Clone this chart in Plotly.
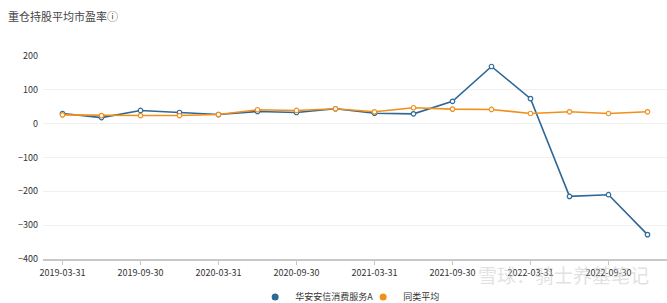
import plotly.graph_objects as go

dates = ["2019-03-31", "2019-06-30", "2019-09-30", "2019-12-31",
         "2020-03-31", "2020-06-30", "2020-09-30", "2020-12-31",
         "2021-03-31", "2021-06-30", "2021-09-30", "2021-12-31",
         "2022-03-31", "2022-06-30", "2022-09-30", "2022-12-31"]
fund_pe = [30, 18, 39, 33, 27, 36, 33, 44, 31, 29, 66, 169, 74, -215, -210, -328]
peer_pe = [26, 24, 24, 24, 27, 41, 39, 44, 35, 47, 43, 42, 30, 35, 30, 35]
tick_labels = dates[::2]

fund_name = "华安安信消费服务A"
peer_name = "同类平均"
font = "Noto Sans CJK SC"
blue = "#2e6897"
orange = "#f0901c"

fig = go.Figure()
for name, vals, col in [(fund_name, fund_pe, blue), (peer_name, peer_pe, orange)]:
    fig.add_trace(go.Scatter(x=dates, y=vals, name=name, mode="lines+markers",
                             showlegend=False,
                             line=dict(color=col, width=1.6),
                             marker=dict(symbol="circle", size=4.5, color="white",
                                         line=dict(color=col, width=1.2))))
for name, col in [(fund_name, blue), (peer_name, orange)]:
    fig.add_trace(go.Scatter(x=[None], y=[None], name=name, mode="markers",
                             marker=dict(symbol="circle", size=7, color=col)))

fig.update_layout(
    width=667, height=303,
    margin=dict(l=43, r=0, t=56, b=44),
    paper_bgcolor="white", plot_bgcolor="white",
    font=dict(family=font, size=9, color="#333"),
    showlegend=True,
    legend=dict(orientation="h", x=0.34, xanchor="left", yref="container",
                y=0.02, yanchor="middle",
                font=dict(size=9, color="#333"), itemwidth=30,
                entrywidth=63, entrywidthmode="pixels",
                traceorder="normal"),
    title=dict(text="重仓持股平均市盈率ⓘ", x=0.012, xanchor="left", y=0.945, yanchor="middle",
               font=dict(family=font, size=11, color="#444")),
)
fig.update_xaxes(type="category", range=[-0.5, 15.5],
                 tickmode="array", tickvals=tick_labels, ticktext=tick_labels,
                 showgrid=False, showline=True, linecolor="#c8c8c8", linewidth=2,
                 ticks="outside", ticklen=4, tickcolor="#c8c8c8",
                 tickfont=dict(size=9, color="#333"))
fig.update_yaxes(range=[-400, 200], tickvals=[-400, -300, -200, -100, 0, 100, 200],
                 showgrid=True, gridcolor="#f0f0f0", gridwidth=1, zeroline=False,
                 showline=False, ticks="", tickfont=dict(size=9, color="#333"),
                 ticklabelstandoff=4)

fig.add_annotation(text="雪球：骑士养基笔记", xref="paper", yref="paper",
                   x=0.975, y=-0.075, xanchor="right", yanchor="middle", showarrow=False,
                   font=dict(family=font, size=19, color="rgba(200,200,200,0.55)"))

fig.write_html("out.html")
